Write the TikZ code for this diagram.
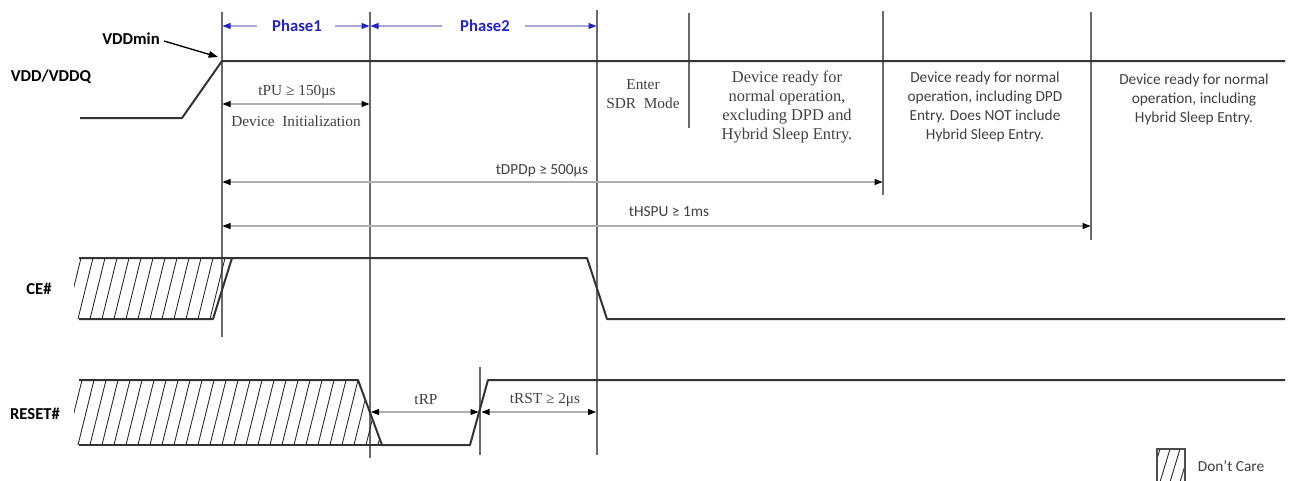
\documentclass[tikz,border=0pt]{standalone}
\usepackage{fontspec}
\setmainfont{Liberation Serif}
\newfontfamily\calfont{Carlito}
\usetikzlibrary{arrows.meta}
\definecolor{sigc}{HTML}{333333}
\definecolor{vlc}{HTML}{6A6A6A}
\definecolor{dimc}{HTML}{B0B0B0}
\definecolor{phb}{HTML}{2424C8}
\definecolor{phl}{HTML}{A8A8D8}
\definecolor{txc}{HTML}{404040}
\begin{document}
\begin{tikzpicture}[x=0.75pt,y=-0.75pt,
  sig/.style={draw=sigc,line width=1.5pt,line join=round},
  vline/.style={draw=vlc,line width=1.1pt},
  hatchline/.style={draw=black!85,line width=0.65pt},
  dimline/.style={draw=dimc,line width=0.8pt,
     {Triangle[length=6pt,width=4.5pt,color=black]}-{Triangle[length=6pt,width=4.5pt,color=black]}},
  phasearr/.style={draw=phl,line width=0.8pt,-{Triangle[length=6pt,width=4.5pt,color=phb]}},
  lbl/.style={font=\calfont\bfseries\fontsize{12.5}{14}\selectfont,text=black,inner sep=0pt},
  phlbl/.style={font=\calfont\bfseries\fontsize{12.5}{14}\selectfont,text=phb,inner sep=0pt},
  sertxt/.style={font=\fontsize{11.5}{14.2}\selectfont,text=txc,inner sep=0pt,align=center},
  serbig/.style={font=\fontsize{12.3}{14.2}\selectfont,text=txc,inner sep=0pt,align=center},
  santxt/.style={font=\calfont\fontsize{11.5}{14.2}\selectfont,text=txc,inner sep=0pt,align=center}
]
\useasboundingbox (0,0) rectangle (1296,480);

% ---- labels
\node[lbl] (vddlbl) at (51,77) {VDD/VDDQ};
\node[lbl] (vddmin) at (131,39) {VDDmin};
\node[lbl] (celbl) at (39,289) {CE\#};
\node[lbl] (rstlbl) at (35,414) {RESET\#};
\coordinate (vddpt) at (218,57);
\draw[draw=black,line width=1pt,-{Triangle[length=7pt,width=5pt]}] (vddmin.east) ++(4,2) -- (vddpt);

% ---- vertical reference lines
\coordinate (v1t) at (222,12);  \coordinate (v1b) at (222,337);
\coordinate (v2t) at (370,12);  \coordinate (v2b) at (370,458);
\coordinate (v3t) at (597,10);  \coordinate (v3b) at (597,455);
\coordinate (v4t) at (689,13);  \coordinate (v4b) at (689,128);
\coordinate (v5t) at (883,11);  \coordinate (v5b) at (883,195);
\coordinate (v6t) at (1091,12); \coordinate (v6b) at (1091,240);
\coordinate (v7t) at (480,367); \coordinate (v7b) at (480,455);
\foreach \i in {1,...,7} {\draw[vline] (v\i t) -- (v\i b);}

% ---- VDD waveform
\draw[sig] (80,118) -- (182,118) -- (222,61) -- (1285,61);

% ---- phases
\node[phlbl] (ph1) at (297,26) {Phase1};
\node[phlbl] (ph2) at (485,26) {Phase2};
\coordinate (p1l) at (222.5,26); \coordinate (p1r) at (369.5,26);
\coordinate (p2l) at (370.5,26); \coordinate (p2r) at (596.5,26);
\draw[phasearr] (257,26) -- (p1l);
\draw[phasearr] (335,26) -- (p1r);
\draw[phasearr] (442,26) -- (p2l);
\draw[phasearr] (525,26) -- (p2r);

% ---- timing annotations
\node[sertxt] (tpu) at (297,92) {tPU ≥ 150μs};
\node[sertxt] (devinit) at (296,121) {Device\ \ Initialization};
\draw[dimline] (222.5,104) -- (369.5,104);

\node[sertxt] (sdr) at (643,94) {Enter\\SDR\ \ Mode};
\node[serbig] (blk1) at (787,107) {Device ready for\\normal operation,\\excluding DPD and\\Hybrid Sleep Entry.};
\node[santxt] (blk2) at (985,107) {Device ready for normal\\operation, including DPD\\Entry. Does NOT include\\Hybrid Sleep Entry.};
\node[santxt] (blk3) at (1194,99) {Device ready for normal\\operation, including\\Hybrid Sleep Entry.};

\node[santxt] (tdpd) at (542,171) {tDPDp ≥ 500μs};
\draw[dimline] (222.5,182) -- (882.5,182);
\node[santxt] (thspu) at (669,212) {tHSPU ≥ 1ms};
\draw[dimline] (222.5,226) -- (1090.5,226);

% ---- CE# waveform
\begin{scope}
  \clip (74,258) -- (232,258) -- (213,319) -- (74,319) -- cycle;
  \foreach \x in {54,66,...,222} {\draw[hatchline] (\x,319) -- (\x+15,258);}
\end{scope}
\draw[sig] (79,258) -- (587,258) -- (607,319) -- (1285,319);
\draw[sig] (79,319) -- (213,319) -- (232,258);

% ---- RESET# waveform
\begin{scope}
  \clip (74,380) -- (358,380) -- (382,445) -- (74,445) -- cycle;
  \foreach \x in {54,66,...,378} {\draw[hatchline] (\x,445) -- (\x+16,380);}
\end{scope}
\draw[sig] (79,380) -- (358,380) -- (382,445) -- (470,445) -- (488,380) -- (1285,380);
\draw[sig] (79,445) -- (382,445);

\node[sertxt] (trp) at (426,400) {tRP};
\draw[dimline] (371,412) -- (478.5,412);
\node[sertxt] (trst) at (545,400) {tRST ≥ 2μs};
\draw[dimline] (481.5,412) -- (596,412);

% ---- legend
\begin{scope}
  \clip (1157,449) rectangle (1185,480);
  \foreach \x in {1150,1160,...,1185} {\draw[hatchline] (\x,482) -- (\x+10,449);}
\end{scope}
\draw[draw=black!70,line width=0.9pt] (1157,482) -- (1157,449) -- (1185,449) -- (1185,482);
\node[santxt] (dc) at (1231,466) {Don’t Care};
\end{tikzpicture}
\end{document}
